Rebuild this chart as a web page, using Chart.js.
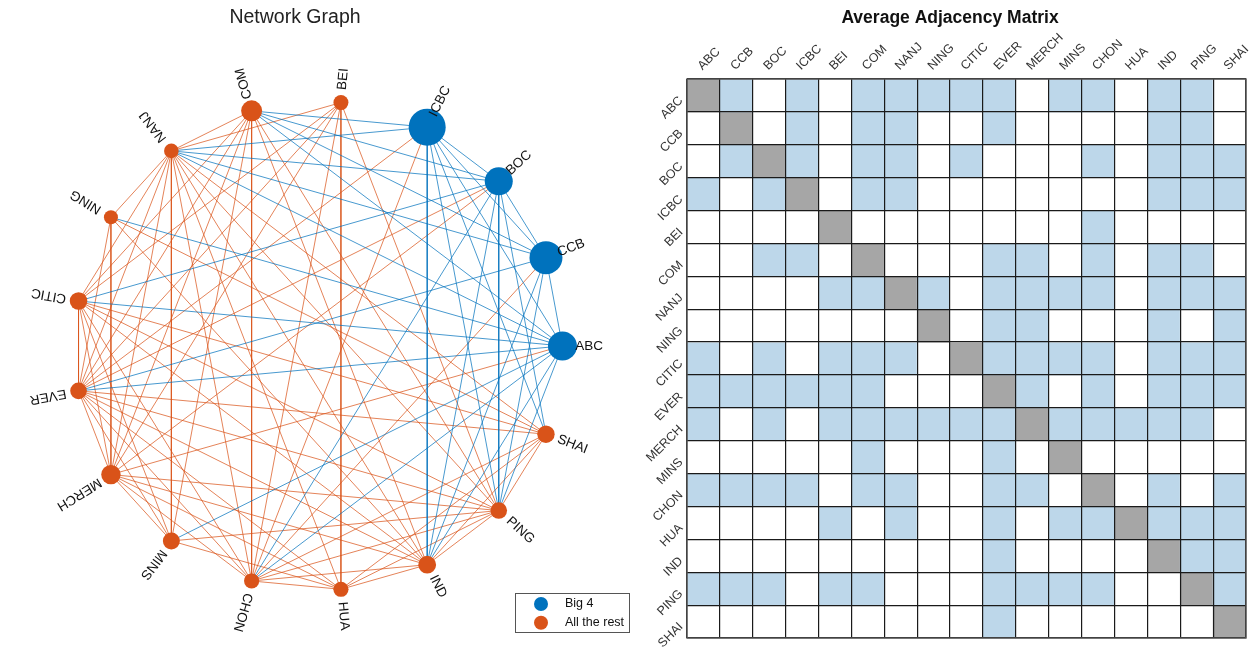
<!DOCTYPE html>
<html>
<head>
<meta charset="utf-8">
<script src="https://cdn.jsdelivr.net/npm/chart.js@4.4.1/dist/chart.umd.min.js"></script>
<style>
  body { margin: 0; background: #fff; }
  #wrap { position: relative; width: 1259px; height: 655px; }
  #netBox { position: absolute; left: 0; top: 0; width: 640px; height: 655px; }
  #matBox { position: absolute; left: 640px; top: 0; width: 619px; height: 655px; }
</style>
</head>
<body>
<div id="wrap">
  <div id="netBox"><canvas id="net" width="640" height="655"></canvas></div>
  <div id="matBox"><canvas id="mat" width="619" height="655"></canvas></div>
</div>
<script>
// ===== data =====
const banks = ['ABC','CCB','BOC','ICBC','BEI','COM','NANJ','NING','CITIC','EVER','MERCH','MINS','CHON','HUA','IND','PING','SHAI'];
const big4 = ['ABC','CCB','BOC','ICBC'];
const legendLabels = ['Big 4', 'All the rest'];
// marker radius per bank (px)
const nodeRadius = [14.5, 16.5, 14, 18.5, 7.5, 10.5, 7.3, 7, 8.8, 8.3, 9.7, 8.5, 7.6, 7.6, 8.9, 8.3, 8.7];
// rows = source, cols = target, null on the diagonal
const adjacency = [
  [null,1,0,1,0,1,1,1,1,1,0,1,1,0,1,1,0],
  [0,null,0,1,0,1,1,0,0,1,0,0,0,0,1,1,0],
  [0,1,null,1,0,1,1,0,1,0,0,0,1,0,1,1,1],
  [1,0,1,null,0,1,1,0,0,0,0,0,0,0,1,1,1],
  [0,0,0,0,null,0,0,0,0,0,0,0,1,0,0,0,0],
  [0,0,1,1,0,null,0,0,0,1,1,0,1,0,1,1,0],
  [0,0,0,0,1,1,null,1,0,1,1,1,1,0,1,1,1],
  [0,0,0,0,0,0,0,null,0,1,1,0,0,0,1,0,1],
  [1,0,1,0,1,1,1,0,null,1,1,1,1,0,1,1,1],
  [1,1,1,1,1,1,0,0,0,null,1,0,1,0,1,1,1],
  [1,0,1,0,1,1,1,1,1,1,null,1,1,1,1,1,0],
  [0,0,0,0,0,1,0,0,0,1,0,null,0,0,0,0,0],
  [1,1,1,1,0,1,1,0,0,1,1,0,null,0,1,0,1],
  [0,0,0,0,1,0,1,0,0,1,0,1,1,null,1,1,1],
  [0,0,0,0,0,0,0,0,0,1,0,0,0,0,null,1,1],
  [1,1,1,0,1,1,0,0,0,1,1,1,1,0,0,null,1],
  [0,0,0,0,0,0,0,0,0,1,0,0,0,0,0,0,null]
];

// ===== colours =====
const BLUE = '#0072BD';
const ORANGE = '#D95319';
const BLUE_EDGE = 'rgba(0,114,189,0.72)';
const ORANGE_EDGE = 'rgba(217,83,25,0.72)';
const CELL_ON = '#BDD7EA';
const CELL_DIAG = '#A6A6A6';
const FONT = '"Liberation Sans", Arial, Helvetica, sans-serif';

const isBig = i => big4.includes(banks[i]);

// ---- Network graph (circle layout) ----
const angleOf = i => i * 2 * Math.PI / banks.length;
const nodePts = banks.map((b, i) => ({ x: Math.cos(angleOf(i)), y: Math.sin(angleOf(i)) }));

// one line per linked pair; blue when a Big 4 bank is the source of either direction
const edgeSets = [];
for (let i = 0; i < banks.length; i++) {
  for (let j = i + 1; j < banks.length; j++) {
    const ij = adjacency[i][j] === 1, ji = adjacency[j][i] === 1;
    if (!ij && !ji) continue;
    const blue = (ij && isBig(i)) || (ji && isBig(j));
    edgeSets.push({
      type: 'line',
      data: [nodePts[i], nodePts[j]],
      borderColor: blue ? BLUE_EDGE : ORANGE_EDGE,
      borderWidth: 1,
      pointRadius: 0,
      tension: 0,
      clip: false,
      order: blue ? 1 : 2,
    });
  }
}

const netDecor = {
  id: 'netDecor',
  afterDraw(chart) {
    const { ctx, scales: { x, y } } = chart;
    ctx.save();
    // node labels, rotated radially
    ctx.fillStyle = '#111';
    ctx.font = `13.5px ${FONT}`;
    ctx.textAlign = 'left';
    ctx.textBaseline = 'middle';
    banks.forEach((b, i) => {
      const a = angleOf(i);
      const px = x.getPixelForValue(1.052 * Math.cos(a));
      const py = y.getPixelForValue(1.052 * Math.sin(a));
      ctx.save();
      ctx.translate(px, py);
      ctx.rotate(-a);
      ctx.fillText(b, 0, 0);
      ctx.restore();
    });

    // title
    ctx.fillStyle = '#222';
    ctx.font = `19.5px ${FONT}`;
    ctx.textAlign = 'center';
    ctx.fillText('Network Graph', 295, 18);

    // legend
    ctx.fillStyle = '#fff';
    ctx.fillRect(515, 593, 114, 39);
    ctx.strokeStyle = '#555';
    ctx.lineWidth = 1;
    ctx.strokeRect(515.5, 593.5, 114, 39);
    [BLUE, ORANGE].forEach((c, k) => {
      const ly = 604 + k * 18.7;
      ctx.beginPath();
      ctx.arc(541, ly, 7, 0, 2 * Math.PI);
      ctx.fillStyle = c;
      ctx.fill();
      ctx.fillStyle = '#111';
      ctx.font = `12.5px ${FONT}`;
      ctx.textAlign = 'left';
      ctx.fillText(legendLabels[k], 565, ly);
    });
    ctx.restore();
  }
};

new Chart(document.getElementById('net'), {
  type: 'scatter',
  data: {
    datasets: [
      {
        type: 'scatter',
        data: nodePts,
        pointRadius: nodeRadius,
        pointHoverRadius: nodeRadius,
        backgroundColor: banks.map((b, i) => isBig(i) ? BLUE : ORANGE),
        borderWidth: 0,
        clip: false,
        order: 0,
      },
      ...edgeSets,
    ],
  },
  options: {
    responsive: false,
    animation: false,
    events: [],
    layout: { padding: 0 },
    scales: {
      x: { type: 'linear', min: -1.229, max: 1.242, display: false },
      y: { type: 'linear', min: -1.189, max: 1.3398, display: false },
    },
    plugins: { legend: { display: false }, tooltip: { enabled: false } },
  },
  plugins: [netDecor],
});

// ---- Average adjacency matrix ----
const matDatasets = adjacency.map((row, r) => ({
  label: banks[r],
  data: row.map(() => [r, r + 1]),
  backgroundColor: row.map(v => v === null ? CELL_DIAG : (v ? CELL_ON : '#ffffff')),
  borderWidth: 0,
  barPercentage: 1,
  categoryPercentage: 1,
}));

const matDecor = {
  id: 'matDecor',
  afterDraw(chart) {
    const { ctx, chartArea, scales: { x, y } } = chart;
    ctx.save();
    // outer frame
    ctx.strokeStyle = '#555';
    ctx.lineWidth = 1.4;
    ctx.strokeRect(chartArea.left, chartArea.top, chartArea.right - chartArea.left, chartArea.bottom - chartArea.top);

    ctx.fillStyle = '#333';
    ctx.font = `12.5px ${FONT}`;
    ctx.textBaseline = 'alphabetic';
    // column labels
    ctx.textAlign = 'left';
    banks.forEach((b, c) => {
      ctx.save();
      ctx.translate(x.getPixelForValue(c) - 1, chartArea.top - 8.5);
      ctx.rotate(-Math.PI / 4);
      ctx.fillText(b, 0, 0);
      ctx.restore();
    });
    // row labels
    ctx.textAlign = 'right';
    banks.forEach((b, r) => {
      ctx.save();
      ctx.translate(chartArea.left - 3.5, y.getPixelForValue(r + 0.5) + 5.7);
      ctx.rotate(-Math.PI / 4);
      ctx.fillText(b, 0, 0);
      ctx.restore();
    });
    // title
    ctx.fillStyle = '#111';
    ctx.font = `bold 17.5px ${FONT}`;
    ctx.textAlign = 'center';
    ctx.textBaseline = 'middle';
    ctx.fillText('Average Adjacency Matrix', 310, 18);
    ctx.restore();
  }
};

new Chart(document.getElementById('mat'), {
  type: 'bar',
  data: { labels: banks, datasets: matDatasets },
  options: {
    responsive: false,
    animation: false,
    events: [],
    layout: { padding: { left: 47, top: 79, right: 13, bottom: 17 } },
    scales: {
      x: {
        type: 'category',
        stacked: true,
        offset: true,
        z: 1,
        ticks: { display: false },
        grid: { offset: true, z: 1, color: '#1a1a1a', lineWidth: 1.2, drawTicks: false },
        border: { display: false },
      },
      y: {
        type: 'linear',
        min: 0,
        max: 17,
        reverse: true,
        stacked: false,
        z: 1,
        ticks: { display: false, stepSize: 1 },
        grid: { z: 1, color: '#1a1a1a', lineWidth: 1.2, drawTicks: false },
        border: { display: false },
      },
    },
    plugins: { legend: { display: false }, tooltip: { enabled: false } },
  },
  plugins: [matDecor],
});
</script>
</body>
</html>
